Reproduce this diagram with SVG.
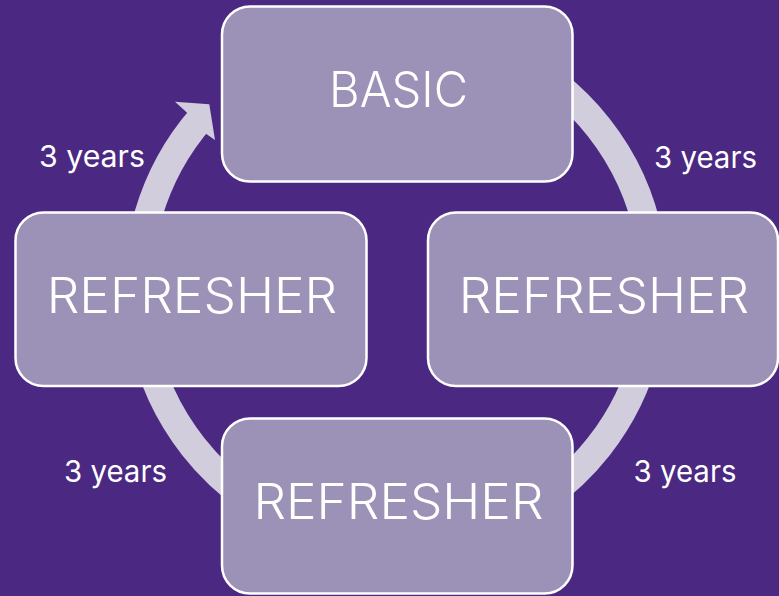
<svg xmlns="http://www.w3.org/2000/svg" width="779" height="596" viewBox="0 0 779 596">
<style>
.node{fill:#9C91B6;stroke:#FFFFFF;stroke-width:2.5}
.lbl{font-family:Inter,"Liberation Sans",Arial,sans-serif;fill:#FFFFFF;text-anchor:middle}
.big{font-size:49px;font-weight:350}
.yr{font-size:30px;font-weight:400}
.ring{fill:none;stroke:#D1CDDC;stroke-width:28}
</style>
<rect x="0" y="0" width="779" height="596" fill="#4B2882"/>
<g id="connectors">
<path class="ring" d="M 396 29 A 258 258 0 1 1 201.3 117.7"/>
<polygon fill="#D1CDDC" points="175,101.7 209.3,104.3 215,140 206.7,134.3 186,111.7"/>
</g>
<g id="basic">
<rect class="node" x="222" y="6.5" width="350.5" height="175" rx="28"/>
<text class="lbl big" x="398.5" y="106.5" textLength="139" lengthAdjust="spacingAndGlyphs">BASIC</text>
</g>
<g id="refresher-left">
<rect class="node" x="15.5" y="212.5" width="351" height="173.5" rx="28"/>
<text class="lbl big" x="192" y="312.5" textLength="290.5" lengthAdjust="spacingAndGlyphs">REFRESHER</text>
</g>
<g id="refresher-right">
<rect class="node" x="428" y="212.5" width="350" height="173.5" rx="28"/>
<text class="lbl big" x="604" y="312.5" textLength="290.5" lengthAdjust="spacingAndGlyphs">REFRESHER</text>
</g>
<g id="refresher-bottom">
<rect class="node" x="222" y="418.5" width="350.5" height="175" rx="28"/>
<text class="lbl big" x="398.5" y="519.3" textLength="290" lengthAdjust="spacingAndGlyphs">REFRESHER</text>
</g>
<g id="labels">
<text class="lbl yr" x="92" y="166.7" textLength="106" lengthAdjust="spacingAndGlyphs">3 years</text>
<text class="lbl yr" x="705.5" y="168" textLength="103" lengthAdjust="spacingAndGlyphs">3 years</text>
<text class="lbl yr" x="115.5" y="481.7" textLength="103" lengthAdjust="spacingAndGlyphs">3 years</text>
<text class="lbl yr" x="685" y="481.7" textLength="103" lengthAdjust="spacingAndGlyphs">3 years</text>
</g>
</svg>
